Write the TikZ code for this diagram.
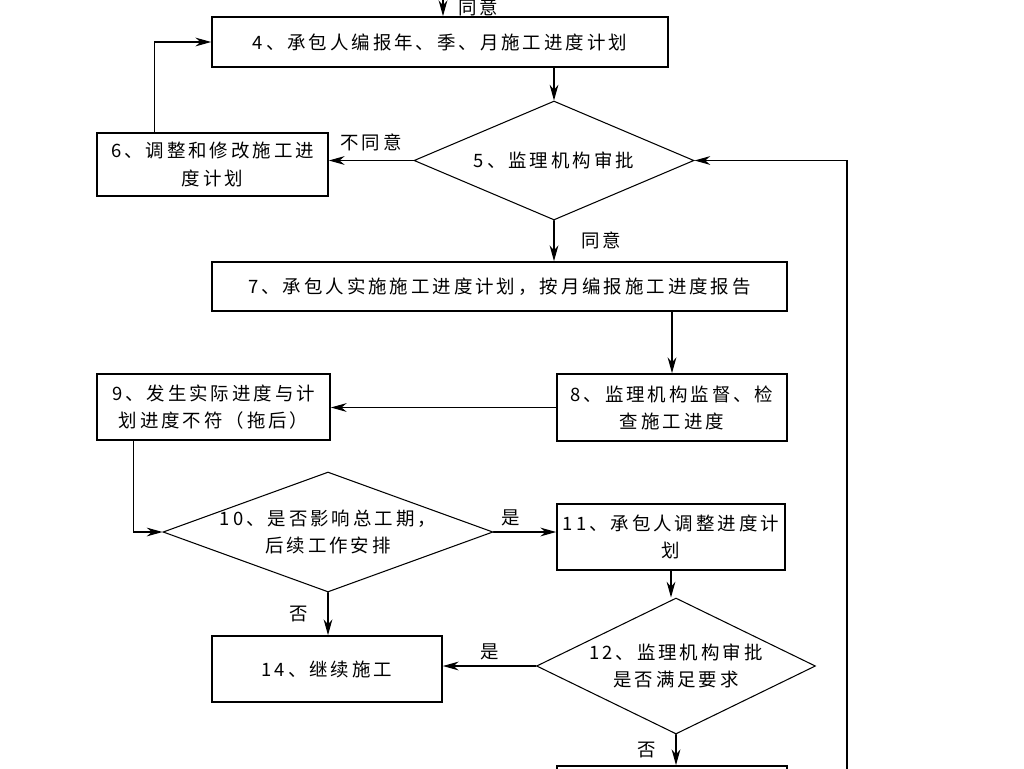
\documentclass[tikz,border=0pt]{standalone}
\usepackage{fontspec}
\newfontfamily\cjk[LetterSpace=16]{Noto Sans CJK SC}
\usetikzlibrary{shapes.geometric,arrows.meta}

\begin{document}
\begin{tikzpicture}[x=0.02cm,y=-0.02cm,line cap=round,
    txt/.style={font=\cjk\fontsize{10.5}{15.4}\selectfont,align=center},
    stepbox/.style={txt,draw,line width=1pt,inner sep=0pt},
    check/.style={txt,draw,shape=diamond,line width=0.6pt,inner sep=-4pt},
    arr/.style={line width=0.6pt,-{Stealth[length=9pt,width=5pt]}}]
  \clip (0,0) rectangle (1024,768);
  % boxes
  \node[stepbox,minimum width=9.12cm,minimum height=1cm] (n4) at (440,42) {4、承包人编报年、季、月施工进度计划};
  \node[check,minimum width=5.6cm,minimum height=2.38cm,aspect=2.35] (n5) at (554,160.5) {5、监理机构审批};
  \node[stepbox,minimum width=4.62cm,minimum height=1.26cm] (n6) at (212.5,164.5) {6、调整和修改施工进\\度计划};
  \node[stepbox,minimum width=11.5cm,minimum height=0.98cm] (n7) at (499.5,286.5) {7、承包人实施施工进度计划，按月编报施工进度报告};
  \node[stepbox,minimum width=4.6cm,minimum height=1.34cm] (n8) at (672,407.5) {8、监理机构监督、检\\查施工进度};
  \node[stepbox,minimum width=4.66cm,minimum height=1.32cm] (n9) at (213.5,407) {9、发生实际进度与计\\划进度不符（拖后）};
  \node[check,minimum width=6.6cm,minimum height=2.4cm,aspect=2.75] (n10) at (328,532) {10、是否影响总工期，\\后续工作安排};
  \node[stepbox,minimum width=4.56cm,minimum height=1.32cm] (n11) at (671,537) {11、承包人调整进度计\\划};
  \node[check,minimum width=5.58cm,minimum height=2.72cm,aspect=2.05] (n12) at (676,666) {12、监理机构审批\\是否满足要求};
  \node[stepbox,minimum width=4.6cm,minimum height=1.32cm] (n14) at (327,669) {14、继续施工};
  \node[stepbox,minimum width=4.6cm,minimum height=1.32cm] (n13) at (672,799) {};
  \coordinate (top) at (443,-30);
  \coordinate (loop) at (847,820);
  % connectors
  \draw[arr] (top) -- (top |- n4.north);
  \node[txt] (ok0) at (478,7) {同意};
  \draw[arr] (n5.north |- n4.south) -- (n5.north);
  \draw[arr] (n5.west) -- (n5.west -| n6.east) node[txt,midway,above=2pt] {不同意};
  \draw[arr] ([xshift=1.16cm]n6.north west) |- (n4.west);
  \draw[arr] (n5.south) -- (n5.south |- n7.north) node[txt,midway,right=12pt] {同意};
  \draw[arr] (n8.north |- n7.south) -- (n8.north);
  \draw[arr] (n8.west) -- (n8.west -| n9.east);
  \draw[arr] ([xshift=0.74cm]n9.south west) |- (n10.west);
  \draw[arr] (n10.east) -- (n10.east -| n11.west) node[txt,pos=0.27,above=0pt] {是};
  \draw[arr] (n10.south) -- (n10.south |- n14.north) node[txt,midway,left=8pt] {否};
  \draw[arr] (n11.south) -- (n11.south |- n12.north);
  \draw[arr] (n12.west) -- (n12.west -| n14.east) node[txt,midway,above=0pt] {是};
  \draw[arr] (n12.south) -- (n12.south |- n13.north) node[txt,midway,left=8pt] {否};
  \draw[arr] (loop) |- (n5.east);
\end{tikzpicture}
\end{document}
